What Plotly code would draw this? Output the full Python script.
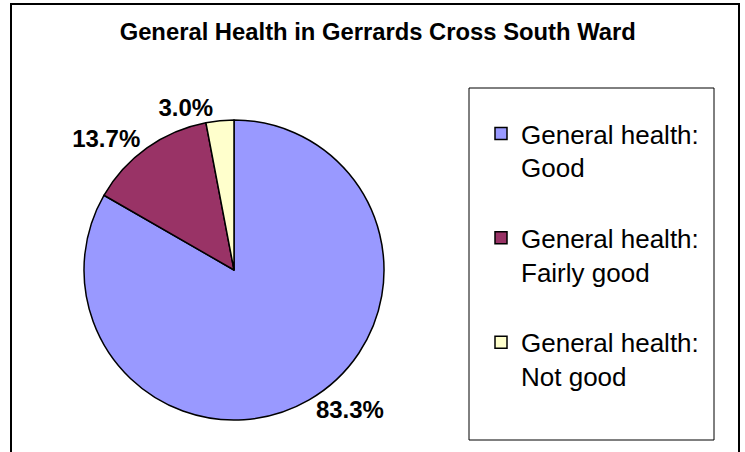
import plotly.graph_objects as go

labels = ["General health:<br>Good<br> ",
          "General health:<br>Fairly good<br> ",
          "General health:<br>Not good<br> "]
values = [83.3, 13.7, 3.0]
colors = ["#9999FF", "#993366", "#FFFFCC"]
title = "General Health in Gerrards Cross South Ward"

W, H = 745, 452
FONT = "Liberation Sans, Arial, sans-serif"

fig = go.Figure(go.Pie(
    labels=labels, values=values, sort=False, direction="clockwise", rotation=0,
    marker=dict(colors=colors, line=dict(color="black", width=1.5)),
    texttemplate="%{percent:.1%}", textposition="outside",
    textfont=dict(family=FONT, size=24, color="black", weight="bold"),
    domain=dict(x=[84 / W, 384 / W], y=[1 - 420 / H, 1 - 120 / H]),
    hoverinfo="label+percent",
))

fig.update_layout(
    width=W, height=H, margin=dict(l=0, r=0, t=0, b=0, autoexpand=False),
    paper_bgcolor="white", plot_bgcolor="white",
    font=dict(family=FONT, color="black"),
    title=dict(text="<b>" + title + "</b>", x=0.507, xanchor="center",
               y=1 - 32 / H, yanchor="middle", font=dict(size=23.8)),
    legend=dict(x=481 / W, xanchor="left", y=1 - 110 / H, yanchor="top",
                valign="top", borderwidth=0,
                bgcolor="rgba(0,0,0,0)", font=dict(size=26)),
    shapes=[dict(type="rect", xref="paper", yref="paper",
                 x0=11 / W, x1=739 / W, y0=-0.1, y1=1 - 4 / H,
                 line=dict(color="black", width=2), fillcolor="rgba(0,0,0,0)",
                 layer="below"),
            dict(type="rect", xref="paper", yref="paper",
                 x0=469 / W, x1=714 / W, y0=1 - 440 / H, y1=1 - 88 / H,
                 line=dict(color="black", width=1), fillcolor="white",
                 layer="below")],
)

fig.write_html("out.html", config={"displayModeBar": False},
               post_script="document.body.style.margin='0';")
